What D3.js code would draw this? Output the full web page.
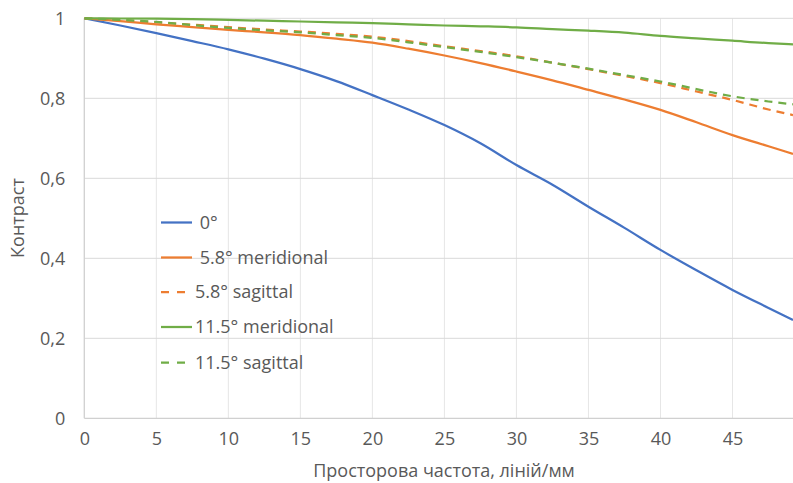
<!DOCTYPE html>
<html>
<head>
<meta charset="utf-8">
<script src="https://cdn.jsdelivr.net/npm/d3@7"></script>
<style>
  body { margin: 0; background: #fff; }
  text { font-family: "Open Sans", sans-serif; fill: #595959; }
</style>
</head>
<body>
<div id="chart"></div>
<script>
// spatial frequency, lines/mm
var freq = [0, 2.5, 5, 7.5, 10, 12.5, 15, 17.5, 20, 22.5, 25, 27.5, 30, 32.5, 35, 37.5, 40, 42.5, 45, 47.5, 49.2];

var axial     = [1, 0.982, 0.963, 0.943, 0.9225, 0.899, 0.873, 0.843, 0.808, 0.772, 0.733, 0.6875, 0.633, 0.584, 0.529, 0.476, 0.421, 0.370, 0.321, 0.276, 0.246];
var mer58     = [1, 0.993, 0.985, 0.978, 0.971, 0.965, 0.958, 0.949, 0.939, 0.924, 0.907, 0.888, 0.867, 0.845, 0.821, 0.797, 0.771, 0.740, 0.708, 0.680, 0.661];
var sag58     = [1, 0.995, 0.990, 0.984, 0.978, 0.972, 0.967, 0.961, 0.954, 0.943, 0.930, 0.918, 0.905, 0.889, 0.873, 0.856, 0.838, 0.817, 0.796, 0.772, 0.758];
var mer115    = [1, 0.9995, 0.999, 0.998, 0.996, 0.994, 0.992, 0.990, 0.988, 0.985, 0.982, 0.980, 0.9775, 0.973, 0.969, 0.964, 0.956, 0.950, 0.944, 0.938, 0.935];
var sag115    = [1, 0.996, 0.991, 0.983, 0.976, 0.970, 0.965, 0.958, 0.951, 0.940, 0.928, 0.916, 0.903, 0.889, 0.874, 0.858, 0.842, 0.823, 0.805, 0.792, 0.785];

var seriesNames = [" 0°", " 5.8° meridional", "5.8° sagittal", "11.5° meridional", "11.5° sagittal"];
var seriesData = [axial, mer58, sag58, mer115, sag115];
var colors = ["#4472C4", "#ED7D31", "#ED7D31", "#70AD47", "#70AD47"];
var dashed = [false, false, true, false, true];

var xTicks = [0, 5, 10, 15, 20, 25, 30, 35, 40, 45];
var yTicks = [0, 0.2, 0.4, 0.6, 0.8, 1];

var W = 793, H = 483;
var m = {left: 84.3, right: 793, top: 18.3, bottom: 418.3};
var fs = "18px";

var svg = d3.select("#chart").append("svg")
    .attr("width", W)
    .attr("height", H);

var x = d3.scaleLinear().domain([0, 49.2]).range([m.left, m.right]);
var y = d3.scaleLinear().domain([0, 1]).range([m.bottom, m.top]);

// gridlines
svg.append("g").selectAll("line")
    .data(xTicks.filter(function(d) { return d > 0; }))
  .enter().append("line")
    .attr("x1", function(d) { return x(d); })
    .attr("x2", function(d) { return x(d); })
    .attr("y1", m.top).attr("y2", m.bottom)
    .attr("stroke", "#e6e6e6").attr("stroke-width", 1);

svg.append("g").selectAll("line")
    .data(yTicks.filter(function(d) { return d > 0; }))
  .enter().append("line")
    .attr("x1", m.left).attr("x2", m.right)
    .attr("y1", function(d) { return y(d); })
    .attr("y2", function(d) { return y(d); })
    .attr("stroke", "#d9d9d9").attr("stroke-width", 1);

// axis lines
svg.append("line")
    .attr("x1", m.left).attr("x2", m.left).attr("y1", m.top).attr("y2", m.bottom)
    .attr("stroke", "#d0d0d0").attr("stroke-width", 1.3);
svg.append("line")
    .attr("x1", m.left).attr("x2", m.right).attr("y1", m.bottom).attr("y2", m.bottom)
    .attr("stroke", "#d0d0d0").attr("stroke-width", 1.3);

// axis labels
var fmt = function(d) { return String(d).replace(".", ","); };

var xAxis = svg.append("g")
    .attr("transform", "translate(0," + m.bottom + ")")
    .call(d3.axisBottom(x).tickValues(xTicks).tickSize(0).tickPadding(14).tickFormat(fmt));
xAxis.select(".domain").remove();

var yAxis = svg.append("g")
    .attr("transform", "translate(" + m.left + ",0)")
    .call(d3.axisLeft(y).tickValues(yTicks).tickSize(0).tickPadding(19).tickFormat(fmt));
yAxis.select(".domain").remove();

svg.selectAll(".tick text")
    .style("font-family", "'Open Sans', sans-serif")
    .style("font-size", fs)
    .attr("fill", "#595959");

// titles
svg.append("text")
    .attr("x", 444).attr("y", 477)
    .attr("text-anchor", "middle")
    .style("font-size", fs)
    .text("Просторова частота, ліній/мм");

svg.append("text")
    .attr("transform", "translate(24,218) rotate(-90)")
    .attr("text-anchor", "middle")
    .style("font-size", fs)
    .text("Контраст");

// curves
var line = d3.line()
    .x(function(d, i) { return x(freq[i]); })
    .y(function(d) { return y(d); })
    .curve(d3.curveMonotoneX);

svg.append("defs").append("clipPath").attr("id", "clip")
  .append("rect").attr("x", m.left).attr("y", 0).attr("width", m.right - m.left).attr("height", m.bottom);

svg.append("g").attr("clip-path", "url(#clip)")
  .selectAll("path")
    .data(seriesData)
  .enter().append("path")
    .attr("fill", "none")
    .attr("stroke", function(d, i) { return colors[i]; })
    .attr("stroke-width", 2.25)
    .attr("stroke-dasharray", function(d, i) { return dashed[i] ? "8,6" : null; })
    .attr("d", line);

// legend
var legendY = [222.5, 257.5, 292, 327, 362.5];
var legend = svg.append("g");
seriesNames.forEach(function(name, i) {
  legend.append("line")
      .attr("x1", 161).attr("x2", 192)
      .attr("y1", legendY[i]).attr("y2", legendY[i])
      .attr("stroke", colors[i])
      .attr("stroke-width", 2.25)
      .attr("stroke-dasharray", dashed[i] ? "8,8" : null);
  legend.append("text")
      .attr("x", 195).attr("y", legendY[i])
      .attr("dy", "0.35em")
      .style("font-size", fs)
      .style("white-space", "pre")
      .text(name);
});
</script>
</body>
</html>
